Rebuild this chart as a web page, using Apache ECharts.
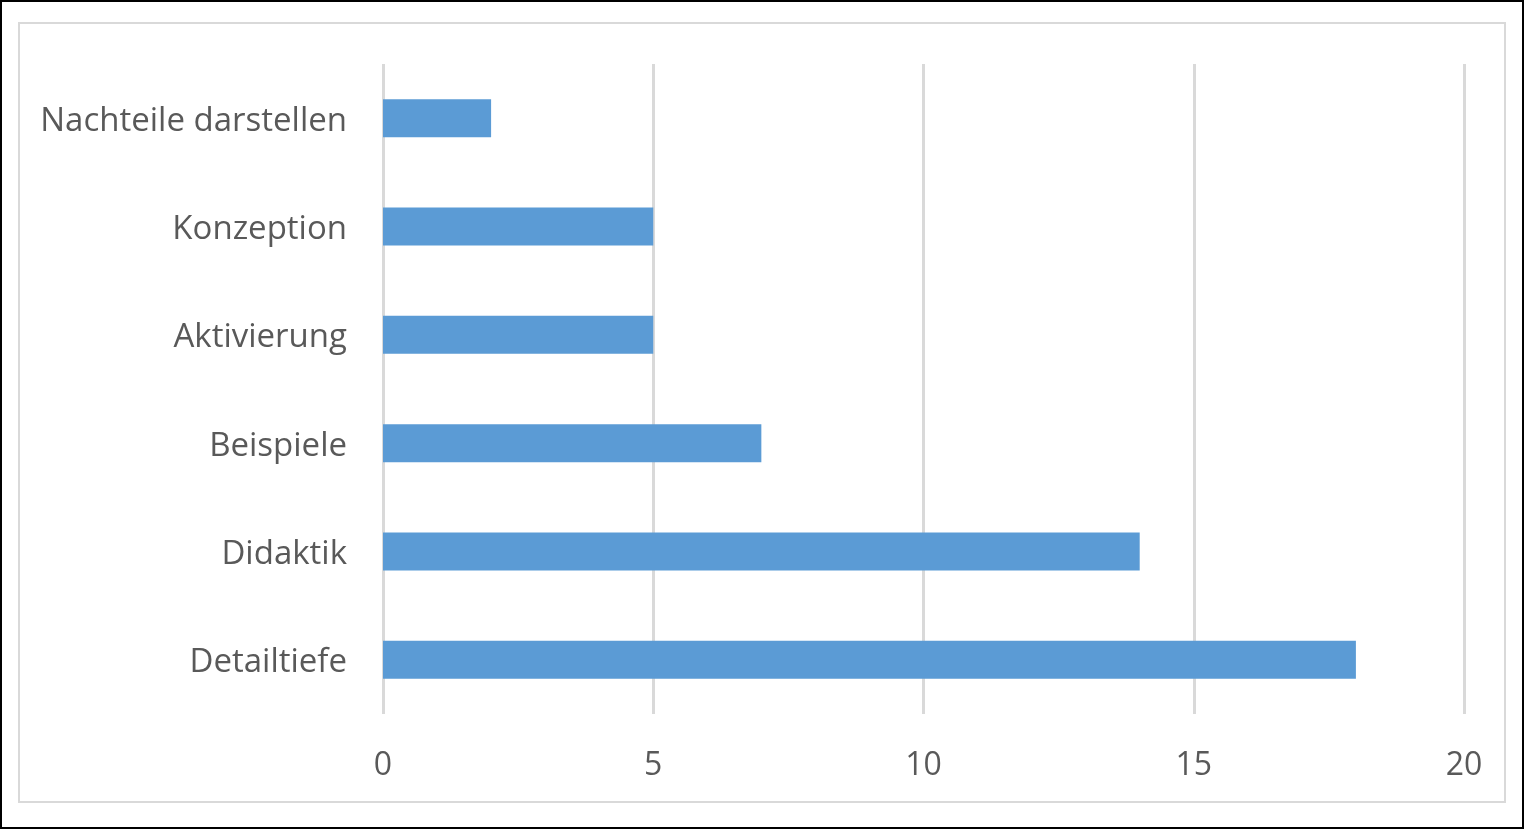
<!DOCTYPE html>
<html>
<head>
<meta charset="utf-8">
<script src="https://cdn.jsdelivr.net/npm/echarts@6/dist/echarts.min.js"></script>
<style>
  html, body { margin: 0; padding: 0; background: #fff; }
  #frame { position: absolute; left: 0; top: 0; width: 1524px; height: 829px; box-sizing: border-box; border: 2px solid #000; }
  #inner { position: absolute; left: 18px; top: 22px; width: 1488px; height: 781px; box-sizing: border-box; border: 2px solid #d9d9d9; }
  #chart { position: absolute; left: 0; top: 0; width: 1524px; height: 829px; }
</style>
</head>
<body>
<div id="frame"></div>
<div id="inner"></div>
<div id="chart"></div>
<script>
const categories = ['Detailtiefe', 'Didaktik', 'Beispiele', 'Aktivierung', 'Konzeption', 'Nachteile darstellen'];
const values = [18, 14, 7, 5, 5, 2];
const xTicks = [0, 5, 10, 15, 20];

const chart = echarts.init(document.getElementById('chart'), null, { renderer: 'canvas' });
const font = 'Open Sans';
chart.setOption({
  animation: false,
  backgroundColor: 'transparent',
  grid: { left: 383, right: 60, top: 64, bottom: 115, containLabel: false },
  xAxis: {
    type: 'value',
    min: xTicks[0],
    max: xTicks[xTicks.length - 1],
    interval: 5,
    axisLine: { show: false },
    axisTick: { show: false },
    axisLabel: { color: '#595959', fontSize: 32, fontFamily: font, margin: 36 },
    splitLine: { show: true, lineStyle: { color: '#d9d9d9', width: 3 } }
  },
  yAxis: {
    type: 'category',
    data: categories,
    axisLine: { show: false },
    axisTick: { show: false },
    axisLabel: {
      margin: 36,
      formatter: function (v) { return '{a|' + v + '}'; },
      rich: { a: { color: '#595959', fontSize: 33, fontFamily: font, padding: [6, 0, 0, 0] } }
    },
    splitLine: { show: false }
  },
  series: [{
    type: 'bar',
    data: values,
    barWidth: 38,
    itemStyle: { color: '#5b9bd5' }
  }]
});
</script>
</body>
</html>
